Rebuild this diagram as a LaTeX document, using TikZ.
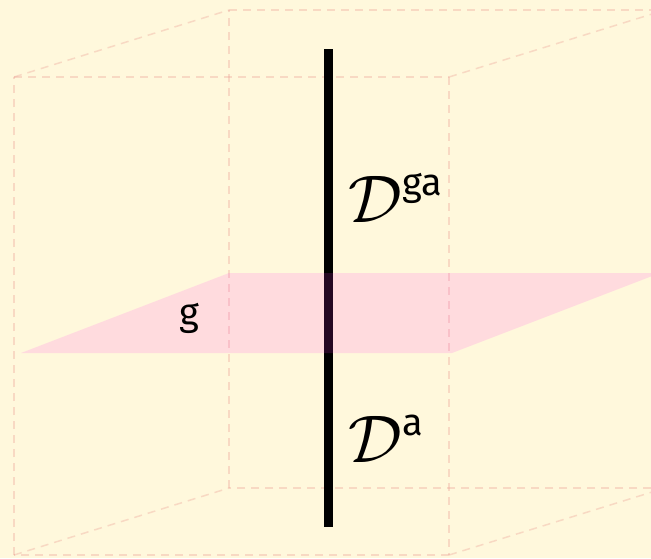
\RequirePackage{fix-cm}
\documentclass[tikz,border=0pt]{standalone}
\usepackage{fontspec}
\setmainfont{Fira Sans}
\usetikzlibrary{positioning}
\definecolor{bgyellow}{RGB}{255,248,220}
\definecolor{edgepink}{RGB}{235,160,150}
\definecolor{planepink}{RGB}{255,60,240}
\newcommand{\suptext}[1]{\raisebox{1pt}{\fontsize{19}{19}\selectfont #1}}

\begin{document}
\begin{tikzpicture}[
  x=0.5pt, y=-0.5pt,
  edge/.style={draw=edgepink, draw opacity=0.35, line width=0.75pt, dash pattern=on 4pt off 3pt},
  axis/.style={draw=black, line width=4.6pt},
  plane/.style={fill=planepink, fill opacity=0.15},
  dlabel/.style={anchor=base west, inner sep=0pt, font=\fontsize{33.7}{40}\selectfont},
  glabel/.style={anchor=base, inner sep=0pt, font=\fontsize{19}{22}\selectfont}
]
\fill[bgyellow] (0,0) rectangle (651,558);
\useasboundingbox (0,0) rectangle (651,558);
\clip (0,0) rectangle (651,558);

% box corners, front and back
\coordinate (f1) at (14,77);
\coordinate (f2) at (449,77);
\coordinate (f3) at (449,555);
\coordinate (f4) at (14,555);
\coordinate (b1) at (229,10);
\coordinate (b2) at (665,10);
\coordinate (b3) at (665,488);
\coordinate (b4) at (229,488);

\foreach \a/\b in {f1/f2,f2/f3,f3/f4,f4/f1,b1/b2,b2/b3,b3/b4,b4/b1,f1/b1,f2/b2,f3/b3,f4/b4}
  \draw[edge] (\a) -- (\b);

% the vertical line
\coordinate (top) at (328.7,49);
\coordinate (bot) at (328.7,527);
\draw[axis] (top) -- (bot);

% the plane g
\coordinate (p1) at (21,353);
\coordinate (p2) at (452,353);
\coordinate (p3) at (660,273);
\coordinate (p4) at (229,273);
\fill[plane] (p1) -- (p2) -- (p3) -- (p4) -- cycle;

\node[dlabel] (Dga) at (348,222) {$\mathcal{D}^{\suptext{ga}}$};
\node[dlabel] (Da) at (348,462) {$\mathcal{D}^{\suptext{a}}$};
\node[glabel] (g) at (189,325) {g};

\end{tikzpicture}
\end{document}
